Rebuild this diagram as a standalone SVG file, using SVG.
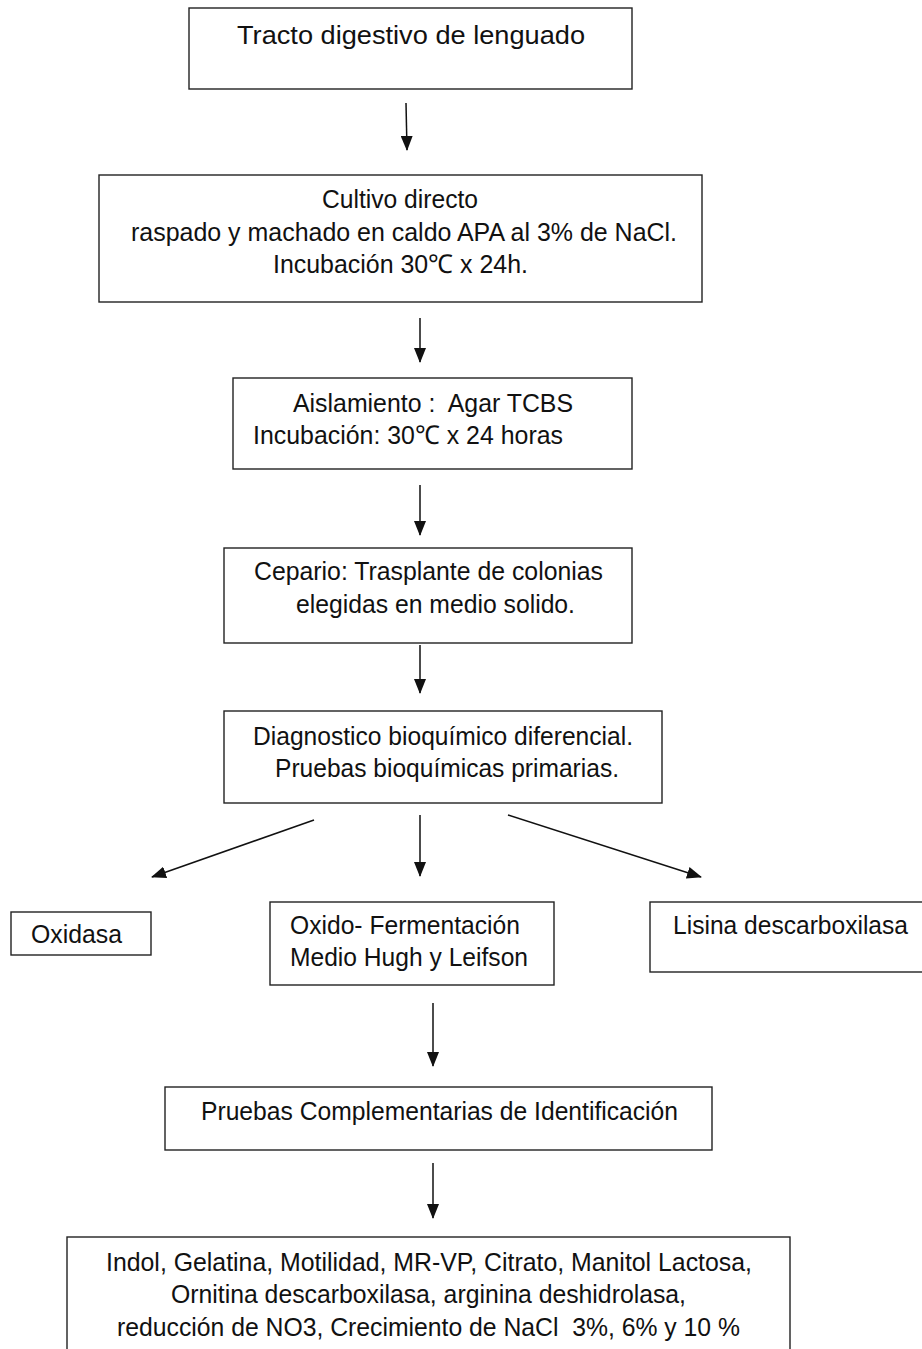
<svg xmlns="http://www.w3.org/2000/svg" width="922" height="1349" viewBox="0 0 922 1349">
<style>
.box{fill:#fff;stroke:#222;stroke-width:1.4}
text{font-family:"Liberation Sans",Arial,sans-serif;font-size:26px;fill:#111}
.ln{stroke:#111;stroke-width:1.5;fill:none}
</style>
<defs>
<marker id="ah" viewBox="0 0 15 12" refX="14" refY="6" markerWidth="15" markerHeight="12" markerUnits="userSpaceOnUse" orient="auto">
<path d="M0,0 L15,6 L0,12 Z" fill="#111"/>
</marker>
</defs>
<rect width="922" height="1349" fill="#fff"/>
<g id="n1"><rect class="box" x="189" y="8" width="443" height="81"/>
<text x="237" y="44" textLength="348" lengthAdjust="spacingAndGlyphs">Tracto digestivo de lenguado</text></g>
<g id="n2"><rect class="box" x="99" y="175" width="603" height="127"/>
<text x="322" y="208" textLength="156" lengthAdjust="spacingAndGlyphs">Cultivo directo</text>
<text x="131" y="241" textLength="546" lengthAdjust="spacingAndGlyphs">raspado y machado en caldo APA al 3% de NaCl.</text>
<text x="273" y="273" textLength="255" lengthAdjust="spacingAndGlyphs">Incubación 30℃ x 24h.</text></g>
<g id="n3"><rect class="box" x="233" y="378" width="399" height="91"/>
<text x="293" y="412" textLength="280" lengthAdjust="spacingAndGlyphs" xml:space="preserve">Aislamiento :  Agar TCBS</text>
<text x="253" y="444" textLength="310" lengthAdjust="spacingAndGlyphs">Incubación: 30℃ x 24 horas</text></g>
<g id="n4"><rect class="box" x="224" y="548" width="408" height="95"/>
<text x="254" y="580" textLength="349" lengthAdjust="spacingAndGlyphs">Cepario: Trasplante de colonias</text>
<text x="296" y="613" textLength="279" lengthAdjust="spacingAndGlyphs">elegidas en medio solido.</text></g>
<g id="n5"><rect class="box" x="224" y="711" width="438" height="92"/>
<text x="253" y="745" textLength="380" lengthAdjust="spacingAndGlyphs">Diagnostico bioquímico diferencial.</text>
<text x="275" y="777" textLength="344" lengthAdjust="spacingAndGlyphs">Pruebas bioquímicas primarias.</text></g>
<g id="n6"><rect class="box" x="11" y="912" width="140" height="43"/>
<text x="31" y="943" textLength="91" lengthAdjust="spacingAndGlyphs">Oxidasa</text></g>
<g id="n7"><rect class="box" x="270" y="902" width="284" height="83"/>
<text x="290" y="934" textLength="230" lengthAdjust="spacingAndGlyphs">Oxido- Fermentación</text>
<text x="290" y="966" textLength="238" lengthAdjust="spacingAndGlyphs">Medio Hugh y Leifson</text></g>
<g id="n8"><rect class="box" x="650" y="902" width="280" height="70"/>
<text x="673" y="934" textLength="235" lengthAdjust="spacingAndGlyphs">Lisina descarboxilasa</text></g>
<g id="n9"><rect class="box" x="165" y="1087" width="547" height="63"/>
<text x="201" y="1120" textLength="477" lengthAdjust="spacingAndGlyphs">Pruebas Complementarias de Identificación</text></g>
<g id="n10"><rect class="box" x="67" y="1237" width="723" height="130"/>
<text x="106" y="1271" textLength="646" lengthAdjust="spacingAndGlyphs">Indol, Gelatina, Motilidad, MR-VP, Citrato, Manitol Lactosa,</text>
<text x="171" y="1303" textLength="515" lengthAdjust="spacingAndGlyphs">Ornitina descarboxilasa, arginina deshidrolasa,</text>
<text x="117" y="1336" textLength="623" lengthAdjust="spacingAndGlyphs" xml:space="preserve">reducción de NO3, Crecimiento de NaCl  3%, 6% y 10 %</text></g>
<g id="connectors">
<line class="ln" x1="406" y1="103" x2="407" y2="150" marker-end="url(#ah)"/>
<line class="ln" x1="420" y1="318" x2="420" y2="362" marker-end="url(#ah)"/>
<line class="ln" x1="420" y1="485" x2="420" y2="535" marker-end="url(#ah)"/>
<line class="ln" x1="420" y1="645" x2="420" y2="693" marker-end="url(#ah)"/>
<line class="ln" x1="314" y1="820" x2="152" y2="877" marker-end="url(#ah)"/>
<line class="ln" x1="420" y1="815" x2="420" y2="876" marker-end="url(#ah)"/>
<line class="ln" x1="508" y1="815" x2="701" y2="877" marker-end="url(#ah)"/>
<line class="ln" x1="433" y1="1003" x2="433" y2="1066" marker-end="url(#ah)"/>
<line class="ln" x1="433" y1="1163" x2="433" y2="1218" marker-end="url(#ah)"/>
</g>
</svg>
